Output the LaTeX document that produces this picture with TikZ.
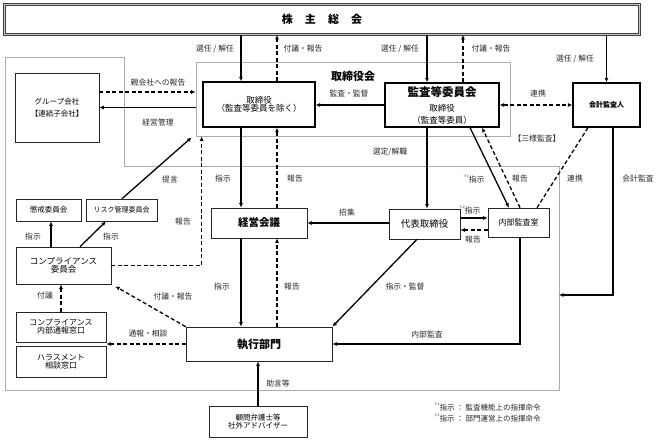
\documentclass[tikz,border=0pt]{standalone}
\usepackage{fontspec}
\setmainfont{Noto Sans CJK JP}
\usetikzlibrary{arrows.meta,calc}
\begin{document}
\begin{tikzpicture}[x=1pt,y=-1pt,
  box/.style={draw=gray!30!black, line width=0.6pt, inner sep=0pt, align=center, fill=white},
  bbox/.style={draw=black, line width=1.3pt, inner sep=0pt, align=center, fill=white},
  frame/.style={draw=gray!65, line width=0.8pt},
  arr/.style={line width=1.3pt, -{Latex[length=4.5pt,width=4pt]}},
  dline/.style={line width=1.3pt, dash pattern=on 4pt off 2.5pt},
  darr/.style={dline, -{Latex[length=4.5pt,width=4pt]}},
  ddarr/.style={dline, {Latex[length=4.5pt,width=4pt]}-{Latex[length=4.5pt,width=4pt]}},
  lbl/.style={font=\fontsize{7.8}{9}\selectfont, inner sep=0pt, text=black!85},
  fs/.style={font=\fontsize{#1}{#1}\selectfont},
]
\useasboundingbox (0,0) rectangle (660,443);

% frames
\draw[frame] (5,57) -- (124,57) -- (124,166) -- (559,166) -- (559,390) -- (5,390) -- cycle;
\coordinate (fre) at (559,295);
\node[frame, minimum width=314pt, minimum height=74pt, inner sep=0pt] (brd) at (353,99) {};
\node[font=\fontsize{11}{12}\selectfont\bfseries, inner sep=0pt] (brdlbl) at (353,76) {取締役会};

% nodes
\node[draw=gray!50!black, double=gray!45, double distance=1pt, line width=0.6pt,
      minimum width=635pt, minimum height=30pt, inner sep=0pt, fill=white,
      font=\fontsize{11}{12}\selectfont\bfseries] (top) at (322,19.5)
      {株\hspace{1.1em}主\hspace{1.1em}総\hspace{1.1em}会};
\node[bbox, minimum width=112pt, minimum height=45pt, fs=8.5] (dir) at (259,104.5)
      {取締役\\（監査等委員を除く）};
\node[bbox, minimum width=114pt, minimum height=44pt] (ac) at (442,105)
      {{\fontsize{11.5}{12}\selectfont\bfseries 監査等委員会}\\[3pt]{\fontsize{8.5}{9}\selectfont 取締役}\\{\fontsize{8.5}{9}\selectfont （監査等委員）}};
\node[bbox, minimum width=67pt, minimum height=44pt, font=\fontsize{7}{8}\selectfont\bfseries] (kaikei) at (606.5,105) {会計監査人};
\node[box, minimum width=84pt, minimum height=69pt, fs=7.5] (group) at (57,107.5)
      {グループ会社\\[5pt]【連結子会社】};
\node[box, minimum width=96pt, minimum height=30pt, font=\fontsize{10.5}{11}\selectfont\bfseries] (keiei) at (259,223) {経営会議};
\node[box, minimum width=71pt, minimum height=30pt, fs=9.5] (daihyo) at (424.5,224) {代表取締役};
\node[box, minimum width=61pt, minimum height=29pt, fs=8] (naibu) at (518.5,222.5) {内部監査室};
\node[box, minimum width=65pt, minimum height=22pt, fs=7.5] (choukai) at (48.5,210) {懲戒委員会};
\node[box, minimum width=71pt, minimum height=22pt, fs=7] (risk) at (121.5,210) {リスク管理委員会};
\node[box, minimum width=95pt, minimum height=37pt, fs=8.5] (comp) at (63.5,265.5) {コンプライアンス\\委員会};
\node[box, minimum width=90pt, minimum height=30pt, fs=8] (tsuho) at (61,327) {コンプライアンス\\内部通報窓口};
\node[box, minimum width=90pt, minimum height=31pt, fs=8] (harass) at (61,361.5) {ハラスメント\\相談窓口};
\node[box, minimum width=146pt, minimum height=34pt, font=\fontsize{11}{12}\selectfont\bfseries] (shikko) at (259,344) {執行部門};
\node[box, minimum width=98pt, minimum height=31pt, fs=7.5] (komon) at (258,421.5) {顧問弁護士等\\社外アドバイザー};

% connectors: top
\coordinate (a1) at ([xshift=-18pt]dir.north);
\coordinate (a2) at ([xshift=18pt]dir.north);
\draw[arr] (a1 |- top.south) -- (a1);
\draw[darr] (a2) -- (a2 |- top.south);
\coordinate (b1) at ([xshift=-15pt]ac.north);
\coordinate (b2) at ([xshift=21pt]ac.north);
\draw[arr] (b1 |- top.south) -- (b1);
\draw[darr] (b2) -- (b2 |- top.south);
\draw[arr] (kaikei.north |- top.south) -- (kaikei.north);

% board level
\draw[arr] (ac.west) -- (ac.west -| dir.east);
\draw[ddarr] (ac.east) -- (kaikei.west);
\coordinate (g1) at ([yshift=15.5pt]group.east);
\draw[darr] (g1) -- (g1 -| brd.west);
\draw[arr] (group.east -| brd.west) -- (group.east);

% dir -> keiei
\coordinate (c1) at ([xshift=-18pt]dir.south);
\coordinate (c2) at ([xshift=18pt]dir.south);
\draw[arr] (c1) -- (c1 |- keiei.north);
\draw[darr] (c2 |- keiei.north) -- (c2);

% ac -> daihyo
\coordinate (d1) at ([xshift=-15pt]ac.south);
\draw[arr] (d1) -- (d1 |- daihyo.north);

% daihyo -> keiei, naibu
\coordinate (e1) at ([yshift=1pt]daihyo.west);
\draw[arr] (e1) -- (e1 -| keiei.east);
\coordinate (e2) at ([yshift=6pt]daihyo.east);
\coordinate (e3) at ([yshift=-6pt]daihyo.east);
\draw[arr] (e2) -- (e2 -| naibu.west);
\draw[darr] (e3 -| naibu.west) -- (e3);

% ac <-> naibu, kaikei - naibu
\draw[arr] ([xshift=28pt]ac.south) -- ([xshift=-9.5pt]naibu.north);
\draw[darr] ([xshift=1.5pt]naibu.north) -- ([xshift=40pt]ac.south);
\draw[dline] ([xshift=-18.5pt]kaikei.south) -- ([xshift=18.5pt]naibu.north);
\draw[arr] ([xshift=6.5pt]kaikei.south) |- (fre);

% naibu -> shikko
\coordinate (f1) at ([xshift=1.5pt]naibu.south);
\draw[arr] (f1) |- (shikko.east);
\draw[arr] ([xshift=-7.5pt]daihyo.south) -- (shikko.north east);

% keiei <-> shikko
\coordinate (h1) at ([xshift=-18pt]keiei.south);
\coordinate (h2) at ([xshift=18pt]keiei.south);
\draw[arr] (h1) -- (h1 |- shikko.north);
\draw[darr] (h2 |- shikko.north) -- (h2);

% left side
\draw[darr] (shikko.north west) -- ([shift={(4pt,-2pt)}]comp.south east);
\draw[darr] (shikko.west) -- (shikko.west -| tsuho.east);
\draw[darr] (tsuho.north) -- (tsuho.north |- comp.south);
\coordinate (i1) at ([xshift=-12.5pt]comp.north);
\draw[arr] (i1) -- (i1 |- choukai.south);
\draw[arr] ([xshift=16.5pt]comp.north) -- ([xshift=-15.5pt]risk.south);
\draw[arr] ([xshift=0.5pt]risk.north) -- ([shift={(-4pt,-1pt)}]brd.south west);
\coordinate (j1) at ([xshift=6pt]brd.south west);
\draw[darr] (comp.east) -| (j1);
\draw[arr] (komon.north) -- (komon.north |- shikko.south);

% labels
\node[lbl] (l1) at (215,49) {選任 / 解任};
\node[lbl] (l2) at (303,49) {付議・報告};
\node[lbl] (l3) at (400,49) {選任 / 解任};
\node[lbl] (l4) at (491,49) {付議・報告};
\node[lbl] (l5) at (575,59) {選任 / 解任};
\node[lbl] (l6) at (349,94) {監査・監督};
\node[lbl] (l7) at (538,94) {連携};
\node[lbl] (l8) at (158,83) {親会社への報告};
\node[lbl] (l9) at (158,123) {経営管理};
\node[lbl] (l10) at (537,139) {【三様監査】};
\node[lbl] (l11) at (390,152) {選定/解職};
\node[lbl] (l12) at (223,179) {指示};
\node[lbl] (l13) at (295,179) {報告};
\node[lbl] (l14) at (474,179) {\raisebox{1ex}{\fontsize{3.5}{4}\selectfont ※1}指示};
\node[lbl] (l15) at (520,179) {報告};
\node[lbl] (l16) at (575,179) {連携};
\node[lbl] (l17) at (638,179) {会計監査};
\node[lbl] (l18) at (170,180) {提言};
\node[lbl] (l19) at (470,210) {\raisebox{1ex}{\fontsize{3.5}{4}\selectfont ※2}指示};
\node[lbl] (l20) at (347,213) {招集};
\node[lbl] (l21) at (183,222) {報告};
\node[lbl] (l22) at (473,240) {報告};
\node[lbl] (l23) at (33,237) {指示};
\node[lbl] (l24) at (111,237) {指示};
\node[lbl] (l25) at (222,287) {指示};
\node[lbl] (l26) at (292,287) {報告};
\node[lbl] (l27) at (405,287) {指示・監督};
\node[lbl] (l28) at (45,296) {付議};
\node[lbl] (l29) at (173,297) {付議・報告};
\node[lbl] (l30) at (148,334) {通報・相談};
\node[lbl] (l31) at (427,335) {内部監査};
\node[lbl] (l32) at (278,384) {助言等};
\node[lbl, anchor=west, align=left, font=\fontsize{7.5}{11}\selectfont] (fn) at (434,412.5)
  {\raisebox{1ex}{\fontsize{3.5}{4}\selectfont ※1}指示 ： 監査機能上の指揮命令\\
   \raisebox{1ex}{\fontsize{3.5}{4}\selectfont ※2}指示 ： 部門運営上の指揮命令};
\end{tikzpicture}
\end{document}
